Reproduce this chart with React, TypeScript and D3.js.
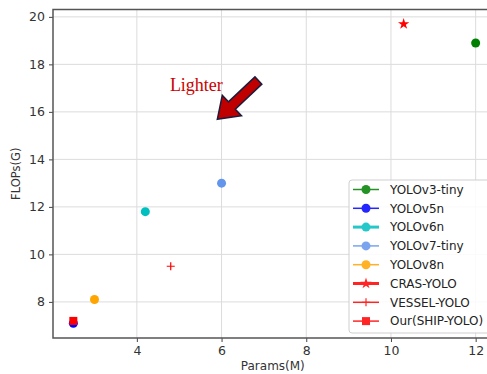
import React, { useEffect, useRef } from "react";
import * as d3 from "d3";

const models = ["YOLOv3-tiny", "YOLOv5n", "YOLOv6n", "YOLOv7-tiny", "YOLOv8n", "CRAS-YOLO", "VESSEL-YOLO", "Our(SHIP-YOLO)"];
const params = [12.0, 2.5, 4.2, 6.0, 3.0, 10.3, 4.8, 2.5];
const flops = [18.9, 7.1, 11.8, 13.0, 8.1, 19.7, 9.5, 7.2];
const colors = ["#008000", "#0000ff", "#00bfbf", "#6495ed", "#ffa500", "#ff0000", "#ff0000", "#ff0000"];
const markers = ["circle", "circle", "circle", "circle", "circle", "star", "plus", "square"];
const legendLineWidth = [1.5, 1.5, 3, 1.5, 1.5, 3, 1.5, 1.5];

const xTicks = [4, 6, 8, 10, 12];
const yTicks = [8, 10, 12, 14, 16, 18, 20];

// annotation, in data units
const arrowTip = [5.9, 15.69];
const arrowTail = [6.87, 17.32];
const noteText = "Lighter";
const notePos = [4.78, 16.89];

export default function App() {
  const svgRef = useRef(null);

  useEffect(() => {
    const W = 487, H = 374;
    const left = 53, top = 9.5, bottom = 338, right = 492.6;

    const x = d3.scaleLinear().domain([2.02, 12.4]).range([left, right]);
    const y = d3.scaleLinear().domain([6.48, 20.31]).range([bottom, top]);

    const svg = d3.select(svgRef.current);
    svg.selectAll("*").remove();
    svg.attr("width", W).attr("height", H);

    svg.append("rect").attr("width", W).attr("height", H).attr("fill", "#fff");

    // grid
    const grid = svg.append("g").attr("stroke", "#dcdcdc").attr("stroke-width", 1);
    xTicks.forEach((t) => {
      grid.append("line").attr("x1", x(t)).attr("x2", x(t)).attr("y1", top).attr("y2", bottom);
    });
    yTicks.forEach((t) => {
      grid.append("line").attr("x1", left).attr("x2", right).attr("y1", y(t)).attr("y2", y(t));
    });

    // axes
    const xAxis = svg.append("g")
      .attr("transform", `translate(0,${bottom})`)
      .call(d3.axisBottom(x).tickValues(xTicks).tickSize(4).tickPadding(4).tickFormat(d3.format("d")));
    const yAxis = svg.append("g")
      .attr("transform", `translate(${left},0)`)
      .call(d3.axisLeft(y).tickValues(yTicks).tickSize(4).tickPadding(4).tickFormat(d3.format("d")));
    [xAxis, yAxis].forEach((a) => {
      a.select(".domain").remove();
      a.selectAll("line").attr("stroke", "#444");
      a.selectAll("text")
        .attr("fill", "#333")
        .style("font-family", "DejaVu Sans, sans-serif")
        .style("font-size", "12.5px");
    });

    // frame
    svg.append("rect")
      .attr("x", left).attr("y", top)
      .attr("width", right - left).attr("height", bottom - top)
      .attr("fill", "none").attr("stroke", "#555").attr("stroke-width", 1.5);

    const drawMarker = (g: any, type: string, cx: number, cy: number, color: string) => {
      if (type === "circle") {
        g.append("circle").attr("cx", cx).attr("cy", cy).attr("r", 4.5).attr("fill", color);
      } else if (type === "square") {
        g.append("rect").attr("x", cx - 4).attr("y", cy - 4).attr("width", 8).attr("height", 8).attr("fill", color);
      } else if (type === "star") {
        g.append("path")
          .attr("d", d3.symbol().type(d3.symbolStar).size(40)())
          .attr("transform", `translate(${cx},${cy})`)
          .attr("fill", color);
      } else if (type === "plus") {
        g.append("path")
          .attr("d", `M${cx - 4},${cy}H${cx + 4}M${cx},${cy - 4}V${cy + 4}`)
          .attr("stroke", color).attr("stroke-width", 1.2);
      }
    };

    // points
    const pts = svg.append("g");
    models.forEach((m, i) => {
      drawMarker(pts, markers[i], x(params[i]), y(flops[i]), colors[i]);
    });

    // arrow annotation
    const tx = x(arrowTip[0]), ty = y(arrowTip[1]);
    const sx = x(arrowTail[0]), sy = y(arrowTail[1]);
    const len = Math.hypot(sx - tx, sy - ty);
    const ux = (sx - tx) / len, uy = (sy - ty) / len;
    const px = -uy, py = ux;
    const headLen = 20, headW = 14, shaftW = 5;
    const p = (a: number, b: number) => [tx + ux * a + px * b, ty + uy * a + py * b];
    const arrowPts = [
      p(0, 0), p(headLen, headW), p(headLen, shaftW), p(len, shaftW),
      p(len, -shaftW), p(headLen, -shaftW), p(headLen, -headW),
    ];
    svg.append("path")
      .attr("d", "M" + arrowPts.map((q) => q.join(",")).join("L") + "Z")
      .attr("fill", "#c00000")
      .attr("stroke", "#1c1c3c")
      .attr("stroke-width", 1.5)
      .attr("stroke-linejoin", "miter");

    svg.append("text")
      .attr("x", x(notePos[0])).attr("y", y(notePos[1]))
      .attr("fill", "#cc0000")
      .style("font-family", "Liberation Serif, serif")
      .style("font-size", "18px")
      .text(noteText);

    // axis labels
    svg.append("text")
      .attr("transform", `translate(20,${(top + bottom) / 2}) rotate(-90)`)
      .attr("text-anchor", "middle")
      .attr("fill", "#333")
      .style("font-family", "DejaVu Sans, sans-serif")
      .style("font-size", "11.5px")
      .text("FLOPs(G)");
    svg.append("text")
      .attr("x", (left + right) / 2).attr("y", 369.5)
      .attr("text-anchor", "middle")
      .attr("fill", "#333")
      .style("font-family", "DejaVu Sans, sans-serif")
      .style("font-size", "12px")
      .text("Params(M)");

    // legend
    const lg = svg.append("g").attr("transform", "translate(349,180)");
    lg.append("rect")
      .attr("width", 150).attr("height", 153).attr("rx", 3)
      .attr("fill", "#fff").attr("fill-opacity", 0.85)
      .attr("stroke", "#cfcfcf");
    models.forEach((m, i) => {
      const cy = 9.5 + i * 18.8;
      const row = lg.append("g").attr("opacity", 0.85);
      row.append("line")
        .attr("x1", 4).attr("x2", 30).attr("y1", cy).attr("y2", cy)
        .attr("stroke", colors[i]).attr("stroke-width", legendLineWidth[i]);
      drawMarker(row, markers[i], 17, cy, colors[i]);
      lg.append("text")
        .attr("x", 41).attr("y", cy).attr("dy", "0.35em")
        .attr("fill", "#222")
        .style("font-family", "DejaVu Sans, sans-serif")
        .style("font-size", "12px")
        .text(m);
    });
  }, []);

  return (
    <div style={{ position: "absolute", left: 0, top: 0 }}>
      <svg ref={svgRef} style={{ display: "block" }} />
    </div>
  );
}
